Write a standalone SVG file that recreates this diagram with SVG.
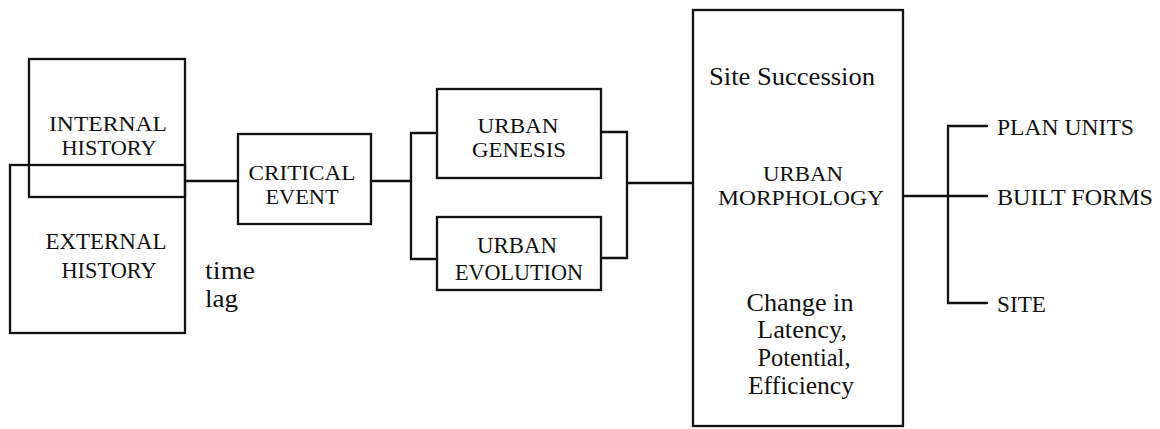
<svg xmlns="http://www.w3.org/2000/svg" width="1160" height="429" viewBox="0 0 1160 429">
<style>
.box{fill:none;stroke:#111;stroke-width:2.3;stroke-linejoin:miter}
.ln{fill:none;stroke:#111;stroke-width:2.3;stroke-linecap:round;stroke-linejoin:miter}
text{font-family:"Liberation Serif","DejaVu Serif",serif;fill:#111}
.c{font-size:23.5px;text-anchor:middle}
.t{font-size:21.5px;text-anchor:middle}
.m{font-size:25px;text-anchor:middle}
.l{font-size:25px}
.r{font-size:23.5px}
</style>
<rect width="1160" height="429" fill="#fff"/>
<g id="connectors">
<path class="ln" d="M185,181 H238"/>
<path class="ln" d="M371,181 H411"/>
<path class="ln" d="M437,133 H411 V259 H437"/>
<path class="ln" d="M601,132 H627 V258 H601"/>
<path class="ln" d="M627,183 H693"/>
<path class="ln" d="M903,196 H987"/>
<path class="ln" d="M987,126 H948 V303 H987"/>
</g>
<g font-family="Liberation Serif, DejaVu Serif, serif">
<g id="internal-history">
<rect class="box" x="29" y="59" width="156" height="138"/>
<text class="t" x="108" y="131" textLength="118" lengthAdjust="spacingAndGlyphs">INTERNAL</text>
<text class="t" x="109" y="155" textLength="95" lengthAdjust="spacingAndGlyphs">HISTORY</text>
</g>
<g id="external-history">
<rect class="box" x="10" y="165" width="175" height="168"/>
<text class="c" x="106" y="249" textLength="121" lengthAdjust="spacingAndGlyphs">EXTERNAL</text>
<text class="c" x="109" y="278" textLength="95" lengthAdjust="spacingAndGlyphs">HISTORY</text>
</g>
<g id="time-lag">
<text class="l" x="205" y="279" textLength="50" lengthAdjust="spacingAndGlyphs">time</text>
<text class="l" x="205" y="307" textLength="33" lengthAdjust="spacingAndGlyphs">lag</text>
</g>
<g id="critical-event">
<rect class="box" x="238" y="134" width="133" height="90"/>
<text class="t" x="302" y="179.5" textLength="107" lengthAdjust="spacingAndGlyphs">CRITICAL</text>
<text class="t" x="302" y="203.5" textLength="73" lengthAdjust="spacingAndGlyphs">EVENT</text>
</g>
<g id="urban-genesis">
<rect class="box" x="437" y="89" width="164" height="89"/>
<text class="t" x="518" y="132.5" textLength="81" lengthAdjust="spacingAndGlyphs">URBAN</text>
<text class="t" x="519" y="156.5" textLength="94" lengthAdjust="spacingAndGlyphs">GENESIS</text>
</g>
<g id="urban-evolution">
<rect class="box" x="437" y="217" width="164" height="73"/>
<text class="c" x="517" y="253" textLength="80" lengthAdjust="spacingAndGlyphs">URBAN</text>
<text class="c" x="519" y="280" textLength="128" lengthAdjust="spacingAndGlyphs">EVOLUTION</text>
</g>
<g id="urban-morphology">
<rect class="box" x="693" y="10" width="210" height="416"/>
<text class="m" x="792" y="85" textLength="166" lengthAdjust="spacingAndGlyphs">Site Succession</text>
<text class="t" x="803" y="181" textLength="80" lengthAdjust="spacingAndGlyphs">URBAN</text>
<text class="t" x="801" y="205" textLength="166" lengthAdjust="spacingAndGlyphs">MORPHOLOGY</text>
<text class="m" x="800" y="311" textLength="107" lengthAdjust="spacingAndGlyphs">Change in</text>
<text class="m" x="802" y="338" textLength="90" lengthAdjust="spacingAndGlyphs">Latency,</text>
<text class="m" x="804" y="366" textLength="93" lengthAdjust="spacingAndGlyphs">Potential,</text>
<text class="m" x="801" y="394" textLength="106" lengthAdjust="spacingAndGlyphs">Efficiency</text>
</g>
<g id="plan-units"><text class="r" x="997" y="135" textLength="137" lengthAdjust="spacingAndGlyphs">PLAN UNITS</text></g>
<g id="built-forms"><text class="r" x="997" y="205" textLength="156" lengthAdjust="spacingAndGlyphs">BUILT FORMS</text></g>
<g id="site"><text class="r" x="997" y="312" textLength="49" lengthAdjust="spacingAndGlyphs">SITE</text></g>
</g>
</svg>
